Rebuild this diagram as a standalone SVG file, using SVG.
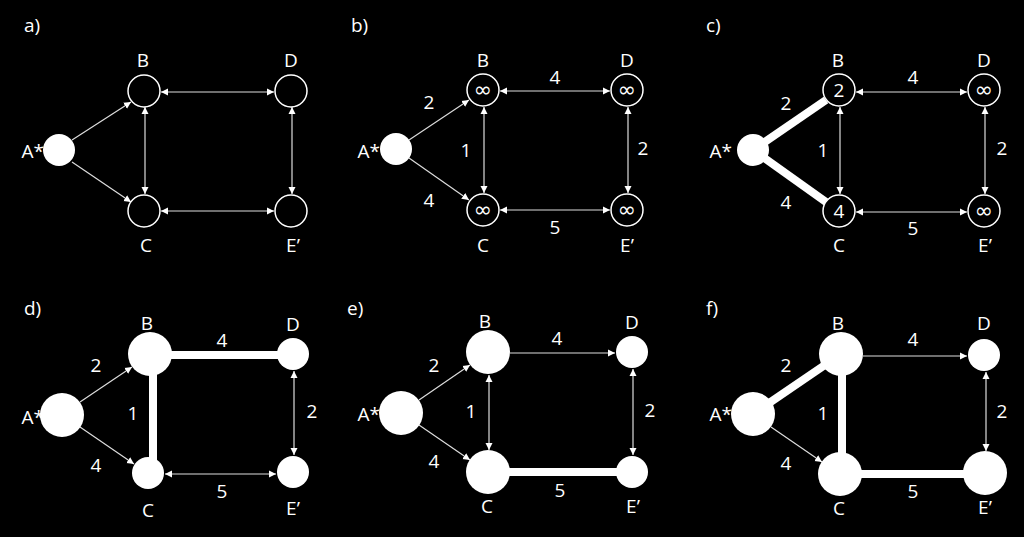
<svg xmlns="http://www.w3.org/2000/svg" width="1024" height="537" viewBox="0 0 1024 537">
<defs>
<marker id="ah" markerUnits="userSpaceOnUse" markerWidth="8" markerHeight="8" viewBox="0 0 8 8" refX="7" refY="4" orient="auto-start-reverse">
<path d="M0,0.5 L7,4 L0,7.5 z" fill="#ffffff"/>
</marker>
</defs>
<style>
text{font-family:"Open Sans","Liberation Sans",sans-serif;font-size:19px;fill:#ffffff}
.m{text-anchor:middle}
.e{text-anchor:end}
.inf{font-family:"DejaVu Sans",sans-serif;font-size:22px;text-anchor:middle}
.open{fill:#000000;stroke:#ffffff;stroke-width:1.5}
.full{fill:#ffffff}
.thin{stroke:#dddddd;stroke-width:1.2;fill:none}
.one{marker-end:url(#ah)}
.two{marker-start:url(#ah);marker-end:url(#ah)}
.thick{stroke:#ffffff;stroke-width:8;fill:none}
</style>
<rect width="1024" height="537" fill="#000000"/>

<!-- panel a -->
<g id="panel-a">
<text x="24" y="32">a)</text>
<g id="connectors-a">
<line class="thin one" x1="72" y1="140" x2="131" y2="102"/>
<line class="thin one" x1="72" y1="162" x2="131" y2="202"/>
<line class="thin two" x1="161" y1="92" x2="274" y2="92"/>
<line class="thin two" x1="145" y1="107" x2="145" y2="194"/>
<line class="thin two" x1="292" y1="107" x2="292" y2="194"/>
<line class="thin two" x1="161" y1="211" x2="274" y2="211"/>
</g>
<g id="a-A"><text class="e" x="44" y="158">A*</text><circle class="full" cx="59" cy="150" r="16"/></g>
<g id="a-B"><circle class="open" cx="144" cy="91" r="16"/><text class="m" x="143" y="67">B</text></g>
<g id="a-C"><circle class="open" cx="144" cy="211" r="16"/><text class="m" x="146" y="252">C</text></g>
<g id="a-D"><circle class="open" cx="291" cy="91" r="16"/><text class="m" x="291" y="67">D</text></g>
<g id="a-E"><circle class="open" cx="291" cy="211" r="16"/><text class="m" x="293" y="252">E’</text></g>
</g>

<!-- panel b -->
<g id="panel-b">
<text x="351" y="32">b)</text>
<g id="connectors-b">
<line class="thin one" x1="409" y1="140" x2="469" y2="100"/>
<line class="thin one" x1="409" y1="158" x2="469" y2="200"/>
<line class="thin two" x1="500" y1="91" x2="610" y2="91"/>
<line class="thin two" x1="484" y1="107" x2="484" y2="193"/>
<line class="thin two" x1="628" y1="107" x2="628" y2="193"/>
<line class="thin two" x1="500" y1="210" x2="610" y2="210"/>
<text class="m" x="429" y="109">2</text>
<text class="m" x="429" y="207">4</text>
<text class="m" x="466" y="157">1</text>
<text class="m" x="555" y="84">4</text>
<text class="m" x="643" y="155">2</text>
<text class="m" x="555" y="234">5</text>
</g>
<g id="b-A"><text class="e" x="380" y="158">A*</text><circle class="full" cx="396" cy="149" r="16"/></g>
<g id="b-B"><circle class="open" cx="483" cy="90" r="16"/><text class="inf" x="483" y="97">∞</text><text class="m" x="483" y="67">B</text></g>
<g id="b-C"><circle class="open" cx="483" cy="210" r="16"/><text class="inf" x="483" y="217">∞</text><text class="m" x="483" y="252">C</text></g>
<g id="b-D"><circle class="open" cx="627" cy="90" r="16"/><text class="inf" x="627" y="97">∞</text><text class="m" x="627" y="67">D</text></g>
<g id="b-E"><circle class="open" cx="627" cy="210" r="16"/><text class="inf" x="627" y="217">∞</text><text class="m" x="627" y="252">E’</text></g>
</g>

<!-- panel c -->
<g id="panel-c">
<text x="706" y="32">c)</text>
<g id="connectors-c">
<line class="thick" x1="753" y1="150" x2="826" y2="100"/>
<line class="thick" x1="753" y1="150" x2="826" y2="202"/>
<line class="thin two" x1="856" y1="92" x2="967" y2="92"/>
<line class="thin two" x1="840" y1="107" x2="840" y2="194"/>
<line class="thin two" x1="985" y1="107" x2="985" y2="194"/>
<line class="thin two" x1="856" y1="212" x2="967" y2="212"/>
<text class="m" x="786" y="110">2</text>
<text class="m" x="786" y="209">4</text>
<text class="m" x="823" y="157">1</text>
<text class="m" x="913" y="84">4</text>
<text class="m" x="1002" y="155">2</text>
<text class="m" x="913" y="235">5</text>
</g>
<g id="c-A"><text class="e" x="732" y="158">A*</text><circle class="full" cx="753" cy="150" r="16"/></g>
<g id="c-B"><circle class="open" cx="839" cy="90" r="16"/><text class="m" x="839" y="97">2</text><text class="m" x="838" y="67">B</text></g>
<g id="c-C"><circle class="open" cx="839" cy="211" r="16"/><text class="m" x="839" y="218">4</text><text class="m" x="839" y="252">C</text></g>
<g id="c-D"><circle class="open" cx="984" cy="90" r="16"/><text class="inf" x="984" y="97">∞</text><text class="m" x="984" y="67">D</text></g>
<g id="c-E"><circle class="open" cx="984" cy="211" r="16"/><text class="inf" x="984" y="218">∞</text><text class="m" x="985" y="252">E’</text></g>
</g>

<!-- panel d -->
<g id="panel-d">
<text x="24" y="315">d)</text>
<g id="connectors-d">
<line class="thick" x1="150" y1="355" x2="293" y2="355"/>
<line class="thick" x1="153" y1="354" x2="153" y2="473"/>
<line class="thin one" x1="80" y1="402" x2="132" y2="367"/>
<line class="thin one" x1="80" y1="427" x2="134" y2="464"/>
<line class="thin two" x1="294" y1="371" x2="294" y2="455"/>
<line class="thin two" x1="165" y1="474" x2="276" y2="474"/>
<text class="m" x="96" y="372">2</text>
<text class="m" x="96" y="472">4</text>
<text class="m" x="133" y="420">1</text>
<text class="m" x="222" y="347">4</text>
<text class="m" x="312" y="418">2</text>
<text class="m" x="222" y="498">5</text>
</g>
<g id="d-A"><text class="e" x="44" y="424">A*</text><circle class="full" cx="62" cy="415" r="22"/></g>
<g id="d-B"><circle class="full" cx="150" cy="354" r="22"/><text class="m" x="147" y="330">B</text></g>
<g id="d-C"><circle class="full" cx="148" cy="473" r="16"/><text class="m" x="148" y="517">C</text></g>
<g id="d-D"><circle class="full" cx="293" cy="354" r="16"/><text class="m" x="293" y="331">D</text></g>
<g id="d-E"><circle class="full" cx="293" cy="472" r="16"/><text class="m" x="293" y="515">E’</text></g>
</g>

<!-- panel e -->
<g id="panel-e">
<text x="347" y="315">e)</text>
<g id="connectors-e">
<line class="thick" x1="488" y1="472" x2="632" y2="472"/>
<line class="thin one" x1="419" y1="400" x2="470" y2="365"/>
<line class="thin one" x1="419" y1="425" x2="470" y2="460"/>
<line class="thin one" x1="510" y1="353" x2="615" y2="353"/>
<line class="thin two" x1="489" y1="375" x2="489" y2="450"/>
<line class="thin two" x1="633" y1="369" x2="633" y2="455"/>
<text class="m" x="434" y="372">2</text>
<text class="m" x="434" y="468">4</text>
<text class="m" x="471" y="418">1</text>
<text class="m" x="557" y="345">4</text>
<text class="m" x="650" y="417">2</text>
<text class="m" x="560" y="497">5</text>
</g>
<g id="e-A"><text class="e" x="380" y="421">A*</text><circle class="full" cx="401" cy="413" r="22"/></g>
<g id="e-B"><circle class="full" cx="488" cy="352" r="22"/><text class="m" x="485" y="328">B</text></g>
<g id="e-C"><circle class="full" cx="488" cy="472" r="22"/><text class="m" x="487" y="513">C</text></g>
<g id="e-D"><circle class="full" cx="632" cy="352" r="16"/><text class="m" x="632" y="329">D</text></g>
<g id="e-E"><circle class="full" cx="632" cy="472" r="16"/><text class="m" x="633" y="513">E’</text></g>
</g>

<!-- panel f -->
<g id="panel-f">
<text x="706" y="315">f)</text>
<g id="connectors-f">
<line class="thick" x1="753" y1="414" x2="841" y2="354"/>
<line class="thick" x1="842" y1="354" x2="842" y2="474"/>
<line class="thick" x1="840" y1="474" x2="985" y2="474"/>
<line class="thin one" x1="771" y1="427" x2="822" y2="462"/>
<line class="thin one" x1="863" y1="356" x2="967" y2="356"/>
<line class="thin two" x1="986" y1="372" x2="986" y2="451"/>
<text class="m" x="786" y="372">2</text>
<text class="m" x="786" y="470">4</text>
<text class="m" x="823" y="420">1</text>
<text class="m" x="913" y="346">4</text>
<text class="m" x="1002" y="418">2</text>
<text class="m" x="913" y="498">5</text>
</g>
<g id="f-A"><text class="e" x="732" y="421">A*</text><circle class="full" cx="753" cy="414" r="22"/></g>
<g id="f-B"><circle class="full" cx="841" cy="354" r="22"/><text class="m" x="838" y="330">B</text></g>
<g id="f-C"><circle class="full" cx="840" cy="474" r="22"/><text class="m" x="839" y="515">C</text></g>
<g id="f-D"><circle class="full" cx="984" cy="355" r="16"/><text class="m" x="984" y="330">D</text></g>
<g id="f-E"><circle class="full" cx="985" cy="473" r="22"/><text class="m" x="985" y="514">E’</text></g>
</g>
</svg>
